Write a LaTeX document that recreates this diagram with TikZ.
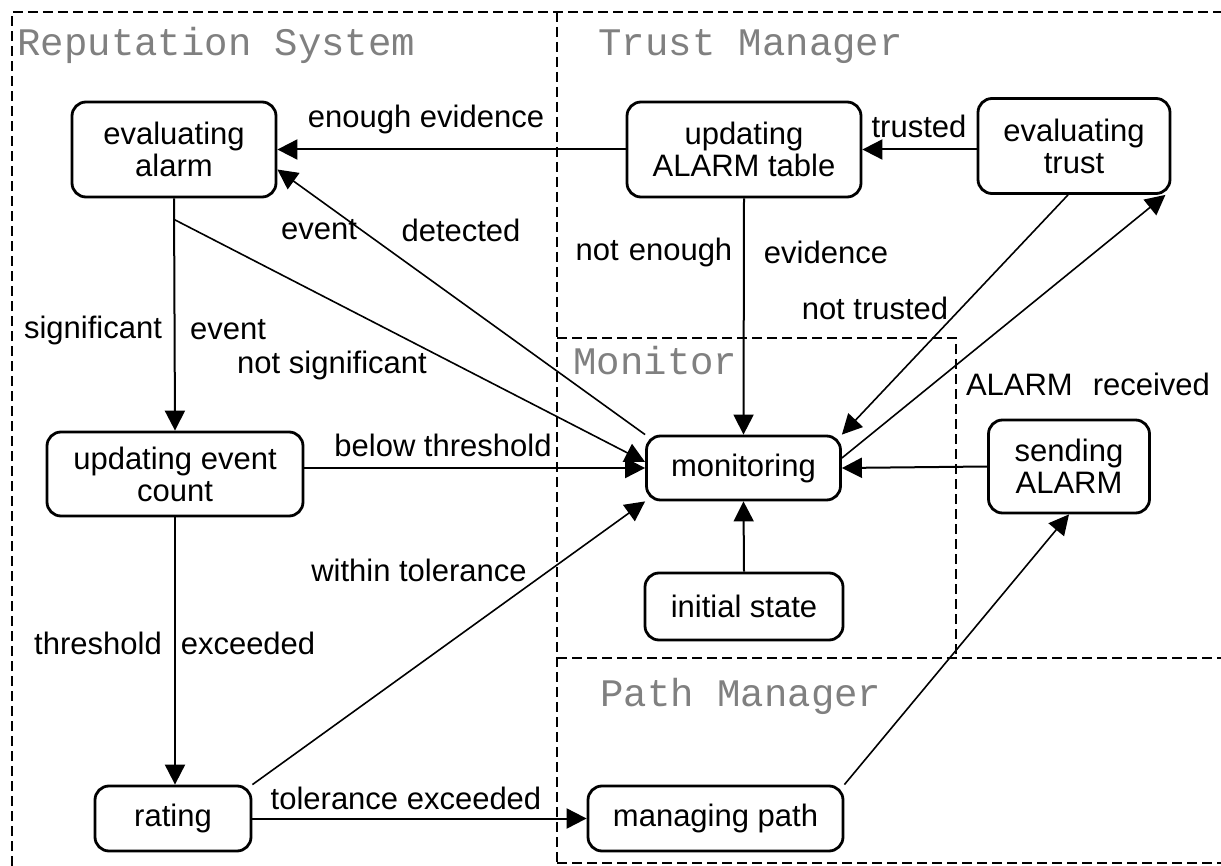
\documentclass[tikz,border=0pt]{standalone}
\usepackage{fontspec}
\setmainfont{Liberation Sans}
\newfontfamily\titlefont{Liberation Mono}
\usetikzlibrary{arrows.meta}
\newcommand\lblfont{\fontsize{15.5}{16}\selectfont}
\newcommand\ttlfont{\titlefont\fontsize{19.5}{20}\selectfont}
\begin{document}
\begin{tikzpicture}[x=0.5pt,y=-0.5pt,
  st/.style={draw, line width=1.4pt, rounded corners=7pt, align=center, font=\lblfont, inner sep=0pt},
  sz/.style 2 args={minimum width=#1*0.5pt, minimum height=#2*0.5pt},
  lb/.style={font=\lblfont, inner sep=0pt},
  tt/.style={font=\ttlfont, text=black!50, anchor=base west, inner sep=0pt},
  fr/.style={dash pattern=on 5pt off 2.5pt, line width=1pt},
  ar/.style={-{Triangle[length=10pt,width=10pt]}, line width=1pt},
  ]
\useasboundingbox (0,0) rectangle (1221,866);
% region frames
\draw[fr] (12,866) -- (12,12) -- (1221,12);
\draw[fr] (557,12) -- (557,866);
\draw[fr] (557,338) -- (956,338) -- (956,658);
\draw[fr] (557,658) -- (1221,658);
\draw[fr] (557,863) -- (1221,863);
% region titles
\node[tt] (tRS) at (17,56) {Reputation System};
\node[tt] (tTM) at (598,56) {Trust Manager};
\node[tt] (tMo) at (573,374) {Monitor};
\node[tt] (tPM) at (600,706) {Path Manager};
% states
\node[st,sz={204}{95}] (ea) at (174,149.5) {evaluating\\alarm};
\node[st,sz={234}{95}] (ua) at (744,149.5) {updating\\ALARM table};
\node[st,sz={192}{95}] (et) at (1074,146) {evaluating\\trust};
\node[st,sz={256}{84}] (uc) at (175,474) {updating event\\count};
\node[st,sz={194}{64}] (mon) at (743.5,468) {monitoring};
\node[st,sz={161}{93}] (sa) at (1069,466.5) {sending\\ALARM};
\node[st,sz={198}{67}] (is) at (744,606.5) {initial state};
\node[st,sz={156}{65}] (ra) at (173,818.5) {rating};
\node[st,sz={255}{65}] (mp) at (715.5,818.5) {managing path};
% transitions
\draw[ar] (ua.west) -- (ea.east);
\draw[ar] (et.west |- ua.east) -- (ua.east);
\draw[ar] (ua.south) -- (mon.north);
\draw[ar,line width=0.8pt] ([xshift=-3pt]et.south) -- (mon.north east);
\draw[ar,line width=0.8pt] ([yshift=5pt]mon.east) -- ([xshift=-3pt]et.south east);
\draw[ar] (sa.west) -- (mon.east);
\draw[ar] (is.north) -- (mon.south);
\draw[ar,line width=0.8pt] (mon.north west) -- ([yshift=-10pt]ea.east);
\draw[ar] (ea.south) -- (uc.north);
\coordinate (br) at ([yshift=-10.5pt]ea.south);
\draw[ar,line width=0.8pt] (br) -- ([yshift=3pt]mon.west);
\draw[ar] (uc.east |- mon.west) -- (mon.west);
\draw[ar] (uc.south) -- (uc.south |- ra.north);
\draw[ar,line width=0.8pt] (ra.north east) -- (mon.south west);
\draw[ar] (ra.east) -- (mp.west);
\draw[ar,line width=0.8pt] (mp.north east) -- (sa.south);
% labels
\node[lb] (l1) at (426,119) {enough evidence};
\node[lb] (l2) at (919,126) {trusted};
\node[lb] (l3) at (319,230) {event};
\node[lb] (l4) at (461,230) {detected};
\node[lb] (l5) at (654,252) {not\hspace{5pt}enough};
\node[lb] (l6) at (826,252) {evidence};
\node[lb] (l7) at (875,308) {not trusted};
\node[lb] (l8) at (1088,384) {ALARM\hspace{10pt}received};
\node[lb] (l9) at (93,330) {significant};
\node[lb] (l10) at (228,330) {event};
\node[lb] (l11) at (332,365) {not significant};
\node[lb] (l12) at (443,445) {below threshold};
\node[lb] (l13) at (98,643) {threshold};
\node[lb] (l14) at (248,643) {exceeded};
\node[lb] (l15) at (419,570) {within tolerance};
\node[lb] (l16) at (406,798) {tolerance exceeded};
\end{tikzpicture}
\end{document}
